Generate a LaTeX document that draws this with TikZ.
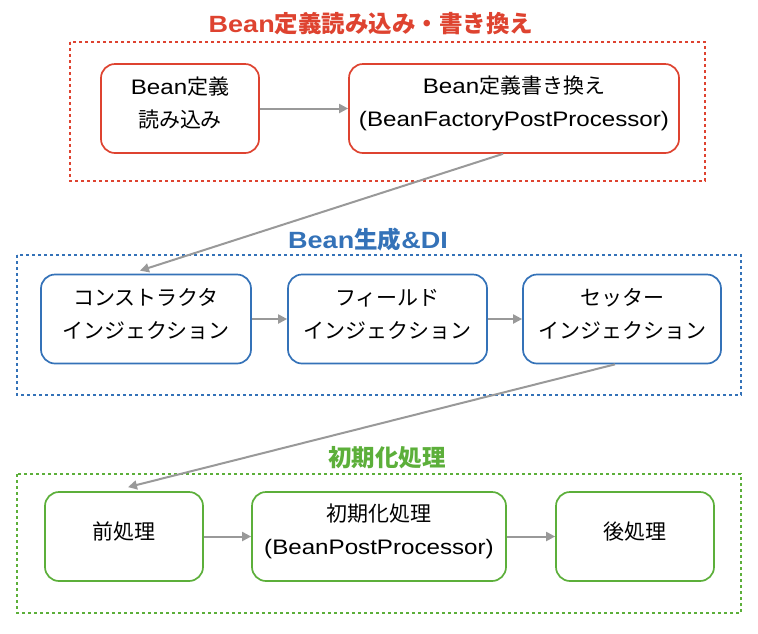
\documentclass[tikz,border=0pt]{standalone}
\usepackage{fontspec}
\setmainfont{Liberation Sans}[FakeStretch=1.15]
\newfontfamily\jp{Noto Sans CJK JP}
\usetikzlibrary{arrows.meta,calc}
\definecolor{cred}{HTML}{DE4330}
\definecolor{cblue}{HTML}{3472B8}
\definecolor{cgreen}{HTML}{5CAF3A}
\definecolor{carrow}{HTML}{999999}
\begin{document}
\begin{tikzpicture}[x=1pt,y=-1pt,
  box/.style={draw, rounded corners=14pt, line width=1.7pt, fill=white,
    inner sep=0pt, minimum height=89pt},
  txt/.style={align=center, inner sep=0pt, font=\fontsize{21}{33}\selectfont},
  group/.style={dash pattern=on 3pt off 3pt, line width=1.4pt},
  gtitle/.style={font=\fontsize{23.5}{26}\selectfont\bfseries, inner sep=0pt},
  arr/.style={draw=carrow, line width=2pt, -{Triangle[length=9pt,width=9pt]}}]
\useasboundingbox (0,0) rectangle (758,633);
% red group
\node[gtitle, text=cred] (t1) at (371,24) {Bean{\jp 定義読み込み・書き換え}};
\draw[group, draw=cred] (70,42) rectangle (705,181);
\node[box, draw=cred, minimum width=158pt] (b1) at (180,108.5) {};
\node[txt] (b1t) at ($(b1)+(0,-5)$) {Bean{\jp 定義}\\{\jp 読み込み}};
\node[box, draw=cred, minimum width=330pt] (b2) at (514,108.5) {};
\node[txt] (b2t) at ($(b2)+(0,-5)$) {Bean{\jp 定義書き換え}\\(BeanFactoryPostProcessor)};
% blue group
\node[gtitle, text=cblue] (t2) at (368,240) {Bean{\jp 生成}\&DI};
\draw[group, draw=cblue] (17,255) rectangle (741,395);
\node[box, draw=cblue, minimum width=210pt] (c1) at (146,319) {};
\node[txt] (c1t) at ($(c1)+(0,-5)$) {{\jp コンストラクタ}\\{\jp インジェクション}};
\node[box, draw=cblue, minimum width=199pt] (c2) at (387.5,319) {};
\node[txt] (c2t) at ($(c2)+(0,-5)$) {{\jp フィールド}\\{\jp インジェクション}};
\node[box, draw=cblue, minimum width=198pt] (c3) at (622,319) {};
\node[txt] (c3t) at ($(c3)+(0,-5)$) {{\jp セッター}\\{\jp インジェクション}};
% green group
\node[gtitle, text=cgreen] (t3) at (387,458) {\jp 初期化処理};
\draw[group, draw=cgreen] (17,474) rectangle (741,613);
\node[box, draw=cgreen, minimum width=158pt] (d1) at (124,536.5) {};
\node[txt] (d1t) at ($(d1)+(0,-5)$) {\jp 前処理};
\node[box, draw=cgreen, minimum width=254pt] (d2) at (379,536.5) {};
\node[txt] (d2t) at ($(d2)+(0,-5)$) {{\jp 初期化処理}\\(BeanPostProcessor)};
\node[box, draw=cgreen, minimum width=158pt] (d3) at (635,536.5) {};
\node[txt] (d3t) at ($(d3)+(0,-5)$) {\jp 後処理};
% arrows
\draw[arr] (b1) -- (b2);
\draw[arr] ($(b2.south)+(-11,0)$) -- ($(c1.north)+(-6,-3)$);
\draw[arr] (c1) -- (c2);
\draw[arr] (c2) -- (c3);
\draw[arr] ($(c3.south)+(-7,0)$) -- ($(d1.north)+(4,-4)$);
\draw[arr] (d1) -- (d2);
\draw[arr] (d2) -- (d3);
\end{tikzpicture}
\end{document}
